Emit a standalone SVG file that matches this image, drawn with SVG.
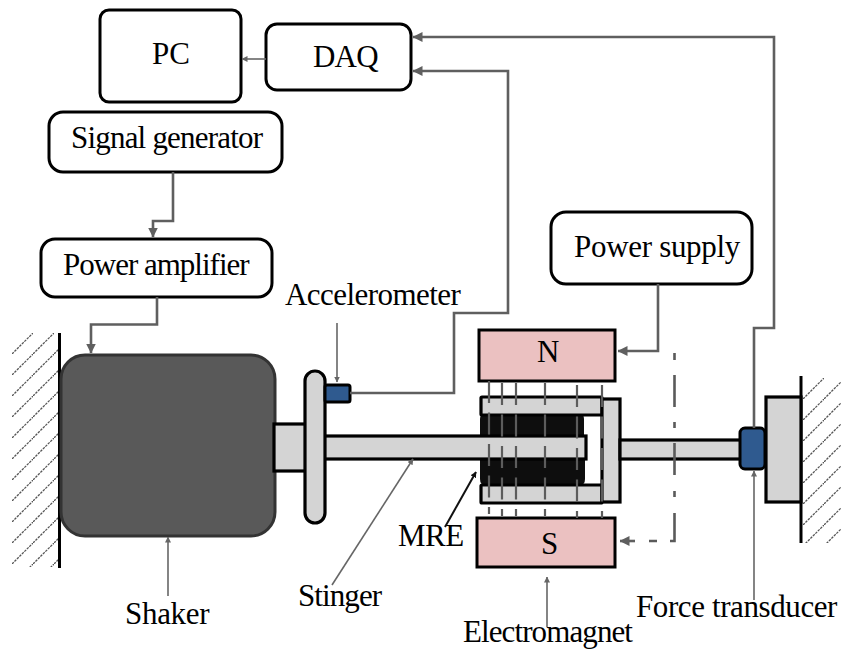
<svg xmlns="http://www.w3.org/2000/svg" width="841" height="649" viewBox="0 0 841 649">
<style>
.box{fill:#fff;stroke:#000;stroke-width:3}
.part{fill:#d4d4d4;stroke:#000;stroke-width:3.2}
.mag{fill:#ebc1c1;stroke:#000;stroke-width:3}
.sen{fill:#2f5a8f;stroke:#000;stroke-width:3}
.t{font-family:"Liberation Serif","Times New Roman",serif;font-size:31px;fill:#000}
.c{fill:none;stroke:#5f5f5f;stroke-width:2.6}
.n{fill:none;stroke:#666;stroke-width:1.6}
.f{fill:none;stroke:#5c5c5c;stroke-width:2.2;stroke-dasharray:22 9.500}
.h{stroke:#555;stroke-width:1.3;stroke-dasharray:2.500 1}
</style>
<defs>
<marker id="a" markerWidth="10" markerHeight="10" refX="9.500" refY="5" orient="auto" markerUnits="userSpaceOnUse"><path d="M0 0L10 5L0 10Z" fill="#5f5f5f"/></marker>
<marker id="b" markerWidth="6" markerHeight="6" refX="5.500" refY="3" orient="auto" markerUnits="userSpaceOnUse"><path d="M0 0L6 3L0 6Z" fill="#666"/></marker>
<marker id="k" markerWidth="6" markerHeight="6" refX="5.500" refY="3" orient="auto" markerUnits="userSpaceOnUse"><path d="M0 0L6 3L0 6Z" fill="#111"/></marker>
<pattern id="hatch" width="21" height="21" patternUnits="userSpaceOnUse" patternTransform="translate(12 333)"><path d="M0 21L21 0" class="h"/></pattern>
<pattern id="hatch2" width="21" height="21" patternUnits="userSpaceOnUse" patternTransform="translate(803 378)"><path d="M0 21L21 0" class="h"/></pattern>
</defs>
<g id="wall-left"><rect x="12" y="333" width="46" height="234" fill="url(#hatch)"/><path d="M59.500 333V568" stroke="#000" stroke-width="3"/></g>
<g id="wall-right"><rect x="803" y="378" width="38" height="165" fill="url(#hatch2)"/><path d="M801 376V543" stroke="#000" stroke-width="3"/></g>
<g id="pc"><rect class="box" x="100" y="10" width="141" height="92" rx="9"/><text class="t" x="152" y="64">PC</text></g>
<g id="daq"><rect class="box" x="266" y="24" width="145" height="66" rx="11"/><text class="t" x="313" y="67" letter-spacing="-0.8">DAQ</text></g>
<g id="signal-generator"><rect class="box" x="49" y="112" width="233" height="60" rx="14"/><text class="t" x="71" y="148" letter-spacing="-0.8">Signal generator</text></g>
<g id="power-amplifier"><rect class="box" x="41" y="239" width="231" height="58" rx="14"/><text class="t" x="63" y="275" letter-spacing="-1">Power amplifier</text></g>
<g id="power-supply"><rect class="box" x="551" y="212" width="201" height="72" rx="15"/><text class="t" x="574" y="257" letter-spacing="-0.3">Power supply</text></g>
<g id="shaker"><rect x="61" y="355" width="214" height="181" rx="24" fill="#595959" stroke="#333" stroke-width="3"/></g>
<g id="shaker-shaft"><rect class="part" x="274" y="424" width="32" height="47"/></g>
<g id="mre"><path d="M480 440V419Q480 414 485 414H580Q584 414 584 419V440Z" fill="#0e0e0e"/><path d="M480 455H585V479Q585 485 580 485H485Q480 485 480 479Z" fill="#0e0e0e"/></g>
<g id="stinger"><rect class="part" x="320" y="436" width="266" height="23"/></g>
<g id="holder"><rect class="part" x="481" y="397" width="121" height="18" rx="1"/><rect class="part" x="481" y="485" width="121" height="18" rx="1"/><rect class="part" x="602" y="399" width="18" height="103"/></g>
<g id="rod-right"><rect class="part" x="620" y="440" width="122" height="19"/></g>
<g id="plate"><rect class="part" x="305" y="371" width="20" height="152" rx="10"/></g>
<g id="accelerometer"><rect class="sen" x="325" y="385" width="25" height="17" rx="2"/></g>
<g id="force-transducer"><rect class="sen" x="740" y="428" width="25" height="41" rx="5"/></g>
<g id="fixture"><rect class="part" x="766" y="397" width="35" height="105"/></g>
<g id="magnet-n"><rect class="mag" x="479" y="330" width="136" height="51"/><text class="t" x="537" y="362">N</text></g>
<g id="magnet-s"><rect class="mag" x="477" y="518" width="138" height="49"/><text class="t" x="541" y="554">S</text></g>
<g id="field-lines">
<path class="f" d="M489 381V514"/><path class="f" d="M502 383V516"/><path class="f" d="M516 383V516"/><path class="f" d="M545 383V516"/><path class="f" d="M577 385V518"/><path class="f" d="M602 385V518"/>
</g>
<g id="connectors">
<path class="n" d="M266 59H242" marker-end="url(#b)"/>
<path class="c" d="M173 172V221H153V237" marker-end="url(#a)"/>
<path class="c" d="M157 297V324.500H91V353" marker-end="url(#a)"/>
<path class="c" d="M350 393H454V313H508V71H413" marker-end="url(#a)"/>
<path class="c" d="M754 428V328H774V37H413" marker-end="url(#a)"/>
<path class="c" d="M658 284V351H618" marker-end="url(#a)"/>
<path d="M674.500 353V360M674.500 375V407M674.500 422V428M674.500 443V475M674.500 491V497M674.500 513V541H670M657 541H649" fill="none" stroke="#5a5a5a" stroke-width="2.600"/>
<path d="M635 541H620" class="c" marker-end="url(#a)"/>
<path class="n" d="M337 323V382" marker-end="url(#b)"/>
<path class="n" d="M168 596V537" marker-end="url(#b)"/>
<path class="n" d="M332 585L413 459" marker-end="url(#b)"/>
<path class="n" d="M547 627V577" marker-end="url(#b)"/>
<path class="n" d="M754 600V471" marker-end="url(#b)"/>
<path d="M445 527L476 472" fill="none" stroke="#111" stroke-width="2" marker-end="url(#k)"/>
</g>
<text class="t" x="285" y="305" letter-spacing="-0.55">Accelerometer</text>
<text class="t" x="125" y="624" letter-spacing="-0.3">Shaker</text>
<text class="t" x="298" y="606" letter-spacing="-0.9">Stinger</text>
<text class="t" x="398" y="546" letter-spacing="-0.5">MRE</text>
<text class="t" x="463" y="642" letter-spacing="-0.9">Electromagnet</text>
<text class="t" x="636" y="617" letter-spacing="-0.4">Force transducer</text>
</svg>
